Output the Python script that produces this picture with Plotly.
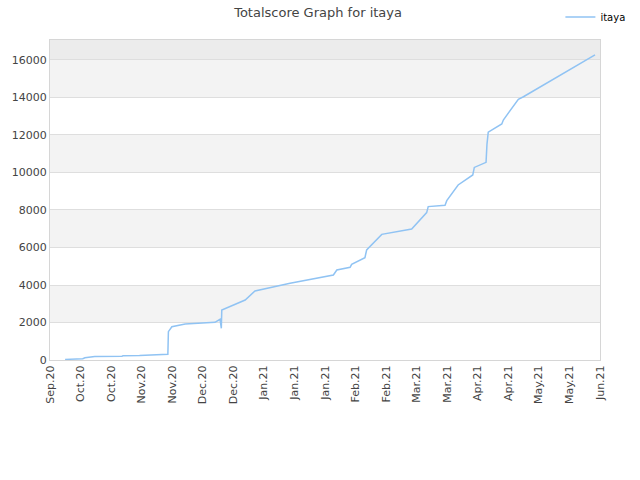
import plotly.graph_objects as go

dates = [
    "2020-10-01 22:00", "2020-10-06 00:00", "2020-10-10 00:00", "2020-10-11 00:00",
    "2020-10-14 18:00", "2020-10-15 12:00", "2020-10-28 00:00", "2020-10-28 12:00",
    "2020-11-05 00:00", "2020-11-14 00:00", "2020-11-18 00:00", "2020-11-18 06:00",
    "2020-11-19 20:00", "2020-11-25 22:00", "2020-12-02 16:00", "2020-12-09 14:00",
    "2020-12-11 22:00", "2020-12-12 12:00", "2020-12-12 17:00", "2020-12-23 10:00",
    "2020-12-27 22:00", "2021-01-13 00:00", "2021-02-01 20:00", "2021-02-03 10:00",
    "2021-02-09 12:00", "2021-02-10 05:00", "2021-02-16 07:00", "2021-02-17 02:00",
    "2021-02-24 00:00", "2021-03-09 17:00", "2021-03-16 14:00", "2021-03-17 07:00",
    "2021-03-25 00:00", "2021-03-25 19:00", "2021-03-31 00:00", "2021-04-06 17:00",
    "2021-04-07 10:00", "2021-04-12 19:00", "2021-04-13 05:00", "2021-04-13 19:00",
    "2021-04-20 00:00", "2021-04-20 17:00", "2021-04-27 14:00", "2021-04-29 22:00",
    "2021-06-01 17:00",
]
scores = [
    30, 50, 70, 120,
    160, 190, 200, 230,
    240, 270, 300, 1510,
    1776, 1920, 1960, 2010,
    2170, 1690, 2667, 3200,
    3680, 4090, 4533, 4800,
    4943, 5100, 5460, 5867,
    6700, 6987, 7860, 8180,
    8250, 8500, 9333, 9867,
    10270, 10540, 11500, 12150,
    12590, 12800, 13900, 14040,
    16270,
]

tick_dates = [
    "2020-09-25", "2020-10-09", "2020-10-23", "2020-11-06", "2020-11-20",
    "2020-12-04", "2020-12-18", "2021-01-01", "2021-01-15", "2021-01-29",
    "2021-02-12", "2021-02-26", "2021-03-12", "2021-03-26", "2021-04-09",
    "2021-04-23", "2021-05-07", "2021-05-21", "2021-06-04",
]
tick_labels = [
    "Sep.20", "Oct.20", "Oct.20", "Nov.20", "Nov.20",
    "Dec.20", "Dec.20", "Jan.21", "Jan.21", "Jan.21",
    "Feb.21", "Feb.21", "Mar.21", "Mar.21", "Apr.21",
    "Apr.21", "May.21", "May.21", "Jun.21",
]
y_ticks = [0, 2000, 4000, 6000, 8000, 10000, 12000, 14000, 16000]
y_labels = [str(v) for v in y_ticks]
y_max = 17066

fig = go.Figure()
fig.add_trace(go.Scatter(
    x=dates, y=scores, mode="lines", name="itaya",
    line=dict(color="#90c3f3", width=1.5),
))

shapes = []
for lo in [2000, 6000, 10000, 14000]:
    shapes.append(dict(type="rect", xref="paper", yref="y", x0=0, x1=1, y0=lo, y1=lo + 2000,
                       fillcolor="#f3f3f3", line=dict(width=0), layer="below"))
shapes.append(dict(type="rect", xref="paper", yref="y", x0=0, x1=1, y0=16000, y1=y_max,
                   fillcolor="#ececec", line=dict(width=0), layer="below"))

fig.update_layout(
    width=640, height=480,
    margin=dict(l=50, r=40, t=40, b=120, autoexpand=False),
    paper_bgcolor="white", plot_bgcolor="white",
    font=dict(family="DejaVu Sans", size=11, color="#444"),
    title=dict(text="Totalscore Graph for itaya", x=0.497, xanchor="center", y=0.975,
               yanchor="middle", font=dict(size=13, color="#444")),
    shapes=shapes,
    showlegend=True,
    legend=dict(x=0.985, y=0.995, xref="container", yref="container", xanchor="right", yanchor="top",
                font=dict(size=10, color="#000"), bgcolor="rgba(0,0,0,0)", itemwidth=30),
    xaxis=dict(
        type="date", range=["2020-09-25", "2021-06-04"],
        tickvals=tick_dates, ticktext=tick_labels, tickangle=-90,
        showgrid=False, showline=True, linecolor="#d6d6d6", mirror=True,
        ticks="", tickfont=dict(size=11, color="#444"), zeroline=False,
    ),
    yaxis=dict(
        range=[0, y_max], tickvals=y_ticks, ticktext=y_labels, showgrid=True, gridcolor="#dedede",
        showline=True, linecolor="#d6d6d6", mirror=True, zeroline=False,
        ticks="", tickfont=dict(size=11, color="#444"),
    ),
)

fig.write_html("out.html")
